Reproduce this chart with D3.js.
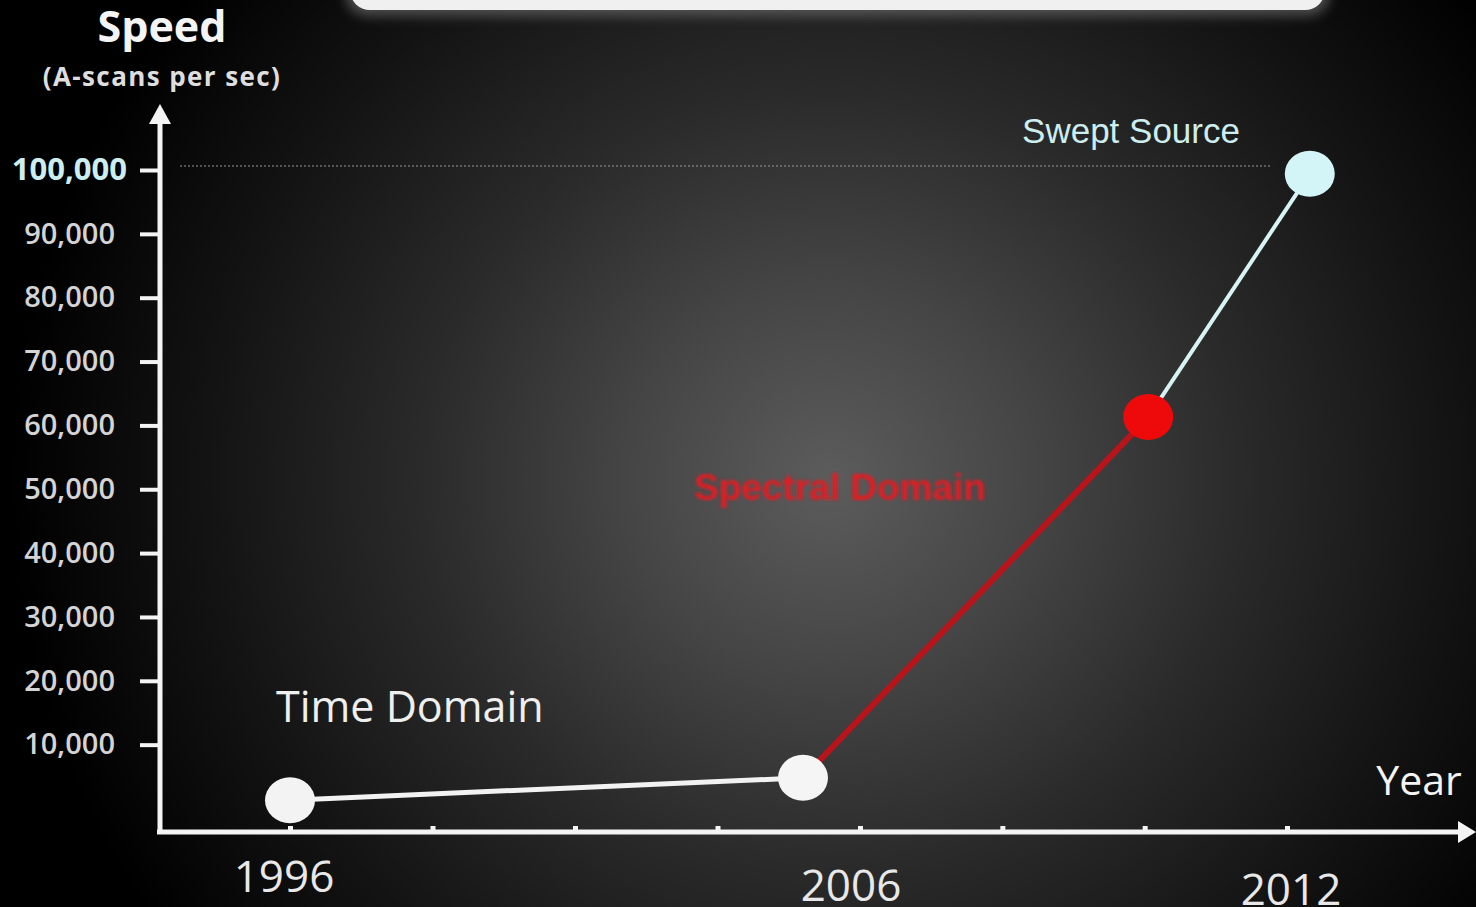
<!DOCTYPE html>
<html><head><meta charset="utf-8">
<script src="https://cdn.jsdelivr.net/npm/d3@7"></script>
<style>
html,body{margin:0;padding:0;background:#000;overflow:hidden;}
svg{display:block;}
</style></head>
<body>
<svg id="chart" width="1476" height="907"></svg>
<script>
// ---- data ----
const pointYears  = [1996, 2005, 2010.05, 2012.32];
const pointSpeeds = [1300, 4800, 61300, 99400];
const pointColors = ["#f3f3f3", "#f5f5f5", "#ee0a0a", "#d4f5f8"];
const segmentColors = ["#f2f2f2", "#b8141c", "#d8f3f4"];
const yTickValues = [10000, 20000, 30000, 40000, 50000, 60000, 70000, 80000, 90000, 100000];
const xTickValues = [1996, 1998.5, 2001, 2003.5, 2006, 2008, 2010, 2012];
const xTickLabels = ["1996", "", "", "", "2006", "", "", "2012"];
const seriesLabels = ["Time Domain", "Spectral Domain", "Swept Source"];

const W = 1476, H = 907;
const svg = d3.select("#chart");
const defs = svg.append("defs");

// background radial gradient
const rg = defs.append("radialGradient").attr("id","bg")
  .attr("gradientUnits","userSpaceOnUse")
  .attr("cx",830).attr("cy",480).attr("r",820)
  .attr("gradientTransform","translate(830,480) scale(1,0.95) translate(-830,-480)");
[[0,"#5c5c5c"],[0.25,"#454545"],[0.5,"#2a2a2a"],[0.75,"#141414"],[1,"#000"]]
  .forEach(([o,c])=>rg.append("stop").attr("offset",o).attr("stop-color",c));
svg.append("rect").attr("width",W).attr("height",H).attr("fill","url(#bg)");

// top white rounded box (cut off by the top edge)
const blur = defs.append("filter").attr("id","glow").attr("x","-10%").attr("y","-100%").attr("width","120%").attr("height","300%");
blur.append("feGaussianBlur").attr("stdDeviation",6);
svg.append("rect").attr("x",345).attr("y",-60).attr("width",985).attr("height",76)
  .attr("rx",22).attr("fill","#777").attr("filter","url(#glow)").attr("opacity",0.6);
svg.append("rect").attr("x",350).attr("y",-60).attr("width",975).attr("height",70)
  .attr("rx",20).attr("fill","#f0f0f0");

// scales
const x = d3.scaleLinear().domain([1996, 2006, 2012]).range([290, 860, 1287]);
const y = d3.scaleLinear().domain([0, 100000]).range([808.5, 170]);

const axisColor = "#f4f4f4";

// dotted reference line at 100,000
svg.append("line").attr("x1",180).attr("x2",1272)
  .attr("y1",y(100000)-4).attr("y2",y(100000)-4)
  .attr("stroke","#9a9a9a").attr("stroke-width",1.2).attr("stroke-dasharray","2,2");

// y axis
const yAxis = d3.axisLeft(y).tickValues(yTickValues).tickSize(20).tickPadding(25)
  .tickFormat(d3.format(","));
const gy = svg.append("g").attr("transform","translate(160,0)").call(yAxis);
gy.select(".domain").remove();
gy.selectAll(".tick line").attr("stroke",axisColor).attr("stroke-width",4);
gy.selectAll(".tick text")
  .attr("fill","#d4d4d4").attr("font-family","'Open Sans', sans-serif")
  .attr("font-size",29).attr("font-weight",600);
gy.selectAll(".tick").filter(d=>d===100000).select("text")
  .attr("fill","#cdeeee").attr("font-size",31).attr("font-weight",700).attr("dx",12);

svg.append("line").attr("x1",160).attr("x2",160).attr("y1",834).attr("y2",118)
  .attr("stroke",axisColor).attr("stroke-width",5);
svg.append("path").attr("d","M160,104 L171,124 L149,124 Z").attr("fill",axisColor);

// x axis
const xAxis = d3.axisTop(x).tickValues(xTickValues).tickSize(6).tickFormat(()=>"");
const gx = svg.append("g").attr("transform","translate(0,832)").call(xAxis);
gx.select(".domain").remove();
gx.selectAll(".tick line").attr("stroke",axisColor).attr("stroke-width",5);
svg.append("line").attr("x1",157).attr("x2",1462).attr("y1",832).attr("y2",832)
  .attr("stroke",axisColor).attr("stroke-width",5);
svg.append("path").attr("d","M1476,832 L1458,821 L1458,843 Z").attr("fill",axisColor);

// x tick labels (perspective-like vertical offsets)
const labelDy = [60, 69, 73];
const labelDx = [-6, -9, 4];
const shownTicks = xTickValues.map((v,i)=>({v, t:xTickLabels[i]})).filter(d=>d.t);
svg.selectAll("text.xlab").data(shownTicks).join("text").attr("class","xlab")
  .attr("x",(d,i)=>x(d.v)+labelDx[i]).attr("y",(d,i)=>832+labelDy[i])
  .attr("text-anchor","middle").attr("fill","#e8e8e8")
  .attr("font-family","'Open Sans', sans-serif").attr("font-size",44)
  .text(d=>d.t);

// axis titles
svg.append("text").attr("x",162).attr("y",42).attr("text-anchor","middle")
  .attr("fill","#f4f4f4").attr("font-family","'Open Sans', sans-serif")
  .attr("font-size",43).attr("font-weight",700).text("Speed");
svg.append("text").attr("x",162).attr("y",86).attr("text-anchor","middle")
  .attr("fill","#dedede").attr("font-family","'Open Sans', sans-serif")
  .attr("font-size",26).attr("font-weight",700).attr("letter-spacing",1.4)
  .text("(A-scans per sec)");
svg.append("text").attr("x",1419).attr("y",795).attr("text-anchor","middle")
  .attr("fill","#f4f4f4").attr("font-family","'Open Sans', sans-serif")
  .attr("font-size",41).text("Year");

// data lines
const pts = pointYears.map((yr,i)=>({x:x(yr), y:y(pointSpeeds[i]), c:pointColors[i]}));
const segs = d3.pairs(pts).map((p,i)=>({a:p[0], b:p[1], c:segmentColors[i]}));
const segWidth = [5, 6, 4];
svg.selectAll("line.seg").data(segs).join("line").attr("class","seg")
  .attr("x1",d=>d.a.x).attr("y1",d=>d.a.y).attr("x2",d=>d.b.x).attr("y2",d=>d.b.y)
  .attr("stroke",d=>d.c).attr("stroke-width",(d,i)=>segWidth[i]);

// points
svg.selectAll("ellipse.pt").data(pts).join("ellipse").attr("class","pt")
  .attr("cx",d=>d.x).attr("cy",d=>d.y).attr("rx",25).attr("ry",23)
  .attr("fill",d=>d.c);

// series labels
const softBlur = defs.append("filter").attr("id","soft");
softBlur.append("feGaussianBlur").attr("stdDeviation",1.6);
svg.append("text").attr("x",276).attr("y",722)
  .attr("fill","#efefef").attr("font-family","'Open Sans', sans-serif")
  .attr("font-size",43).text(seriesLabels[0]);
svg.append("text").attr("x",840).attr("y",500).attr("text-anchor","middle")
  .attr("fill","#e01a24").attr("font-family","Arial, 'Liberation Sans', sans-serif")
  .attr("font-size",37).attr("font-weight",700).attr("filter","url(#soft)")
  .text(seriesLabels[1]);
svg.append("text").attr("x",1131).attr("y",143).attr("text-anchor","middle")
  .attr("fill","#cdeef0").attr("font-family","Arial, 'Liberation Sans', sans-serif")
  .attr("font-size",35).text(seriesLabels[2]);
</script>
</body></html>
